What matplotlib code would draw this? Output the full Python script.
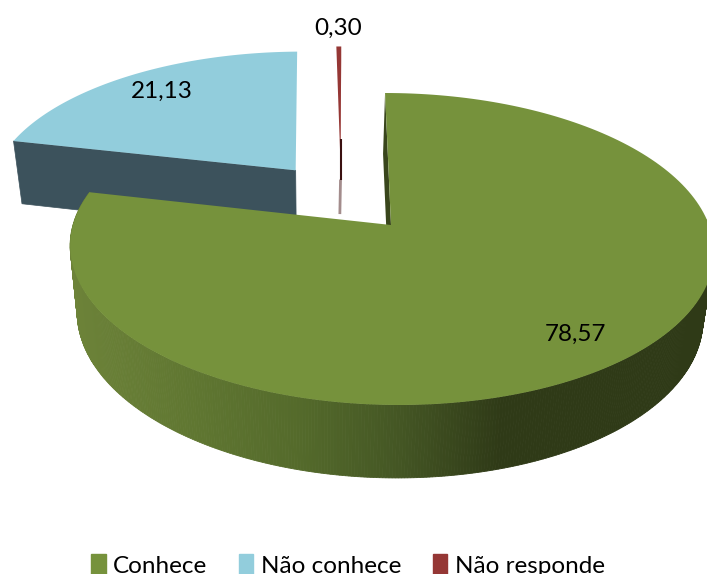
# -*- coding: utf-8 -*-
import numpy as np
import matplotlib
matplotlib.use('Agg')
import matplotlib.pyplot as plt
from matplotlib.patches import Patch

# dados
categorias = ['Conhece', 'Não conhece', 'Não responde']
valores = [78.57, 21.13, 0.30]

cores_topo = ['#76923C', '#92CDDC', '#953735']

# perspectiva da pizza (pixels da figura)
CX, CY = 391, 225
RX, RY = 318, 152.3
K = 0.1538
SHEAR = 0.045
ALTURA = 66
ESCALA_BASE = 0.972
DESVIO_BASE = -2


def projeta(x, y, base=False, altura=ALTURA):
    x = np.asarray(x, dtype=float)
    y = np.asarray(y, dtype=float)
    w = 1 + K * y
    sx = RX * x / w
    sy = RY * y / w
    dx = -SHEAR * sy
    if base:
        return CX + DESVIO_BASE + ESCALA_BASE * sx + dx, CY - ESCALA_BASE * sy + altura / w
    return CX + sx + dx, CY - sy


def setor(ini, fim, ox=0.0, oy=0.0, base=False, altura=ALTURA):
    t = np.linspace(ini, fim, 200)
    x = np.r_[0, np.sin(t)] + ox
    y = np.r_[0, np.cos(t)] + oy
    return projeta(x, y, base, altura)


fig = plt.figure(figsize=(7.07, 5.74), dpi=100)
ax = fig.add_axes([0, 0, 1, 1])
ax.set_xlim(0, 707)
ax.set_ylim(574, 0)
ax.axis('off')

# angulos em sentido horario a partir do topo
total = sum(valores)
fim_ang = np.cumsum(valores) / total * 2 * np.pi
ini_ang = np.r_[0, fim_ang[:-1]]

# Não conhece: fatia destacada
ini, fim = ini_ang[1], fim_ang[1]
meio = (ini + fim) / 2
ox, oy = 0.49 * np.sin(meio), 0.49 * np.cos(meio)
x1, y1 = projeta(np.array([0, np.sin(ini)]) + ox, np.array([0, np.cos(ini)]) + oy)
x2, y2 = projeta(np.array([0, np.sin(ini)]) + ox, np.array([0, np.cos(ini)]) + oy, base=True)
ax.fill(np.r_[x1, x2[::-1]], np.r_[y1, y2[::-1]], color='#3C525C', lw=0.5)
ax.fill(*setor(ini, fim, ox, oy), color=cores_topo[1], lw=0)

# Não responde: fatia fina
ini, fim = ini_ang[2], fim_ang[2]
ox, oy = -0.16, 0.43
x1, y1 = projeta(np.array([0, np.sin(fim)]) + ox, np.array([0, np.cos(fim)]) + oy)
x2, y2 = projeta(np.array([0, np.sin(fim)]) + ox, np.array([0, np.cos(fim)]) + oy, True, 52)
ax.fill(np.r_[x1, x2[::-1]], np.r_[y1, y2[::-1]], color='#D98F8F', lw=0)
ax.plot([x1[0], x2[0]], [y1[0] + 16, y2[0]], color='#A38C8C', lw=2, solid_capstyle='butt')
ax.plot([x1[0], x1[0]], [y1[0] - 25, y1[0] + 16], color='#3A1010', lw=1.5, solid_capstyle='butt')
ax.fill(*setor(ini, fim, ox, oy), color=cores_topo[2], lw=0)

# Conhece: parede com degrade horizontal (so a parte da frente aparece)
ini, fim = ini_ang[0], fim_ang[0]
t = np.linspace(np.radians(88), fim, 400)
grad_x = [70, 200, 300, 400, 500, 710]
grad_r = [0x6D, 0x5F, 0x54, 0x44, 0x2F, 0x2F]
grad_g = [0x83, 0x76, 0x6A, 0x56, 0x3A, 0x3A]
grad_b = [0x39, 0x31, 0x2B, 0x24, 0x17, 0x17]
for a, b in zip(t[:-1], t[1:]):
    tt = np.array([a, b])
    xt, yt = projeta(np.sin(tt), np.cos(tt))
    xb, yb = projeta(np.sin(tt), np.cos(tt), base=True)
    xm = (xt.mean() + xb.mean()) / 2
    cor = (np.interp(xm, grad_x, grad_r) / 255, np.interp(xm, grad_x, grad_g) / 255,
           np.interp(xm, grad_x, grad_b) / 255)
    ax.fill(np.r_[xt, xb[::-1]], np.r_[yt, yb[::-1]], color=cor, lw=0.6)

# face de corte no topo
x1, y1 = projeta([0, 0], [0, 1])
x2, y2 = projeta([0, 0], [0, 1], base=True)
ax.fill(np.r_[x1, x2[::-1]], np.r_[y1, y2[::-1]], color='#39461C', lw=0)

ax.fill(*setor(ini, fim), color=cores_topo[0], lw=0)

# rotulos
fonte = 'Lato'
pos_rotulos = [(575, 334), (162, 91), (338, 28)]
for v, (px, py) in zip(valores, pos_rotulos):
    ax.text(px, py, f'{v:.2f}'.replace('.', ','), ha='center', va='center',
            fontsize=17.5, family=fonte, color='black')

# legenda
handles = [Patch(color=c, label=n) for c, n in zip(cores_topo, categorias)]
ax.legend(handles=handles, ncol=3, frameon=False, loc='lower center',
          bbox_to_anchor=(0.492, -0.006), prop={'family': fonte, 'size': 17.5},
          handlelength=0.6, handleheight=1.0, handletextpad=0.3, columnspacing=1.3,
          borderpad=0, borderaxespad=0)

fig.savefig('out.png', dpi=100)
